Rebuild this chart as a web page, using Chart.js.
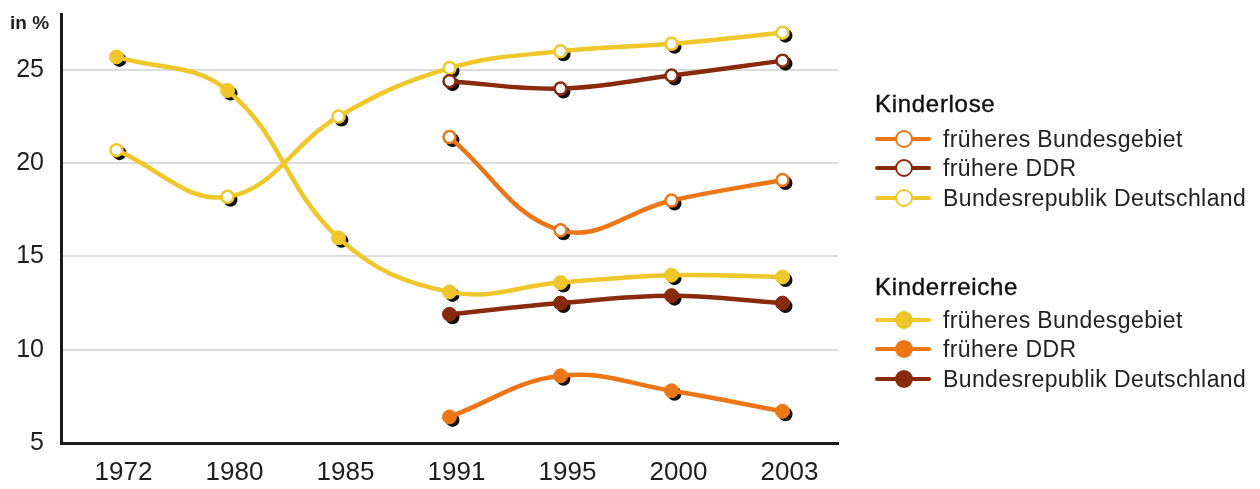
<!DOCTYPE html>
<html lang="de">
<head>
<meta charset="utf-8">
<title>Kinderlose und Kinderreiche in %</title>
<script src="https://cdn.jsdelivr.net/npm/chart.js@4"></script>
<style>
  html, body { margin: 0; padding: 0; background: #fff; }
  #wrap { position: relative; width: 1260px; height: 489px; font-family: "Liberation Sans", Arial, sans-serif; color: #1e1e1e; }
  #chart { position: absolute; left: 0; top: 0; }
  #unit { position: absolute; left: 10px; top: 12px; font-size: 19px; font-weight: bold; color: #222; }
  .legend-head { position: absolute; left: 875px; font-size: 24px; letter-spacing: 0.7px; line-height: 1; transform: translateY(-50%); color: #111; -webkit-text-stroke: 0.4px #111; }
  .legend-item { position: absolute; left: 875px; height: 20px; transform: translateY(-50%); display: flex; align-items: center; }
  .legend-item .mark { position: relative; width: 56px; height: 20px; margin-right: 12px; }
  .legend-item .mark .ln { position: absolute; left: 0; right: 0; top: 8px; height: 4px; border-radius: 2px; }
  .legend-item .mark .dot { position: absolute; left: 20px; top: 1px; width: 18px; height: 18px; border-radius: 50%; box-sizing: border-box; }
  .legend-item .txt { font-size: 23px; letter-spacing: 0.4px; line-height: 1; color: #222; }
</style>
</head>
<body>
<div id="wrap">
  <canvas id="chart" width="1260" height="489"></canvas>
  <div id="unit">in %</div>
  <div id="legend"></div>
</div>
<script>
// Survey years and y-axis ticks
const years = ['1972', '1980', '1985', '1991', '1995', '2000', '2003'];
const yTicks = [5, 10, 15, 20, 25];

// Kinderlose (open markers), in %
const kinderloseOrange = [null, null, null, 21.4, 16.4, 18.0, 19.1];
const kinderloseBraun  = [null, null, null, 24.4, 24.0, 24.7, 25.5];
const kinderloseGelb   = [20.7, 18.2, 22.5, 25.1, 26.0, 26.4, 27.0];

// Kinderreiche (filled markers), in %
const kinderreicheGelb   = [25.7, 23.9, 16.0, 13.1, 13.6, 14.0, 13.9];
const kinderreicheOrange = [null, null, null, 6.4, 8.6, 7.8, 6.7];
const kinderreicheBraun  = [null, null, null, 11.9, 12.5, 12.9, 12.5];

const GELB = '#efc72a';
const ORANGE = '#ec7616';
const BRAUN = '#8a2a0d';

function series(label, data, color, hollow, group) {
  return {
    label, data, group,
    borderColor: color,
    backgroundColor: color,
    borderWidth: 4.5,
    tension: 0.4,
    pointRadius: hollow ? 6 : 7,
    pointBorderWidth: hollow ? 2.5 : 1,
    pointBackgroundColor: hollow ? '#ffffff' : color,
    pointBorderColor: color,
    hollow
  };
}

const datasets = [
  series('früheres Bundesgebiet', kinderloseOrange, ORANGE, true, 'Kinderlose'),
  series('frühere DDR', kinderloseBraun, BRAUN, true, 'Kinderlose'),
  series('Bundesrepublik Deutschland', kinderloseGelb, GELB, true, 'Kinderlose'),
  series('früheres Bundesgebiet', kinderreicheGelb, GELB, false, 'Kinderreiche'),
  series('frühere DDR', kinderreicheOrange, ORANGE, false, 'Kinderreiche'),
  series('Bundesrepublik Deutschland', kinderreicheBraun, BRAUN, false, 'Kinderreiche')
];

// Dark drop shadow under every marker
const markerShadow = {
  id: 'markerShadow',
  beforeDatasetDraw(chart, args) {
    const ctx = chart.ctx;
    ctx.save();
    ctx.fillStyle = '#111';
    args.meta.data.forEach(pt => {
      if (pt.skip) return;
      ctx.beginPath();
      ctx.arc(pt.x + 3, pt.y + 3, 7, 0, Math.PI * 2);
      ctx.fill();
    });
    ctx.restore();
  }
};

const font = { family: '"Liberation Sans", Arial, sans-serif' };

new Chart(document.getElementById('chart'), {
  type: 'line',
  data: { labels: years, datasets },
  options: {
    responsive: false,
    animation: false,
    events: [],
    layout: { padding: { left: 0, top: 14, right: 422, bottom: 0 } },
    plugins: { legend: { display: false }, tooltip: { enabled: false } },
    scales: {
      x: {
        offset: true,
        grid: { display: false, drawTicks: false },
        border: { display: true, color: '#1a1a1a', width: 3 },
        ticks: { color: '#1e1e1e', font: { ...font, size: 26 }, padding: 14, labelOffset: 7, maxRotation: 0 },
        afterFit(scale) { scale.height = 46; scale.paddingLeft = 0; scale.paddingRight = 0; }
      },
      y: {
        min: 5,
        max: 28,
        afterBuildTicks(scale) { scale.ticks = yTicks.map(v => ({ value: v })); },
        grid: {
          drawTicks: false,
          lineWidth: 2,
          color: c => (c.tick && c.tick.value === yTicks[0]) ? 'rgba(0,0,0,0)' : '#dcdcdc'
        },
        border: { display: true, color: '#1a1a1a', width: 3 },
        ticks: { color: '#1e1e1e', font: { ...font, size: 25 }, padding: 17 },
        afterFit(scale) { scale.width = 61; scale.paddingTop = 0; scale.paddingBottom = 0; }
      }
    }
  },
  plugins: [markerShadow]
});

// Grouped legend
const legend = document.getElementById('legend');
const headY = { Kinderlose: 104, Kinderreiche: 287 };
const itemY = { Kinderlose: [139, 168, 198], Kinderreiche: [320, 349, 379] };
Object.keys(headY).forEach(group => {
  const h = document.createElement('div');
  h.className = 'legend-head';
  h.style.top = headY[group] + 'px';
  h.textContent = group;
  legend.appendChild(h);
  datasets.filter(d => d.group === group).forEach((d, i) => {
    const item = document.createElement('div');
    item.className = 'legend-item';
    item.style.top = itemY[group][i] + 'px';
    const dotStyle = d.hollow
      ? `background:#fff;border:2.5px solid ${d.borderColor};`
      : `background:${d.borderColor};`;
    item.innerHTML = `<div class="mark"><div class="ln" style="background:${d.borderColor}"></div>` +
      `<div class="dot" style="${dotStyle}"></div></div><span class="txt">${d.label}</span>`;
    legend.appendChild(item);
  });
});
</script>
</body>
</html>
